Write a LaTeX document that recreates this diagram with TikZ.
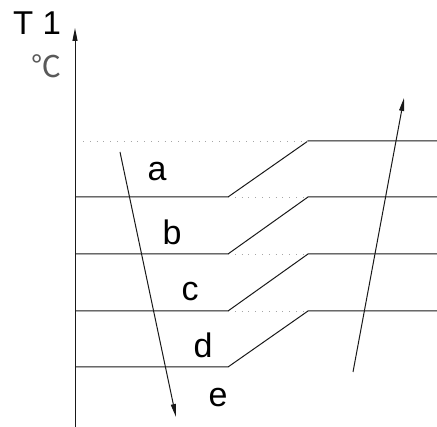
\documentclass[tikz,border=0pt]{standalone}
\usepackage{fontspec}
\setmainfont{Liberation Sans}
\newfontfamily\cjk{Noto Sans CJK SC}
\usetikzlibrary{arrows.meta}
\begin{document}
\begin{tikzpicture}[x=1pt,y=-1pt,
  line/.style={draw=black!90,line width=1pt},
  dotline/.style={draw=black!35,line width=0.8pt,dash pattern=on 0.8pt off 6pt},
  arr/.style={-{Triangle[length=13pt,width=5pt]}},
  lbl/.style={font=\fontsize{34}{34}\selectfont,inner sep=0pt}]
\useasboundingbox (0,0) rectangle (437,427);
% axis
\coordinate (ax0) at (75,427);
\coordinate (ax1) at (75,28);
\draw[line,arr] (ax0) -- (ax1);
\node[inner sep=0pt,anchor=west,font=\fontsize{33}{33}\selectfont] (t1) at (13,23) {T 1};
\node[inner sep=0pt,font=\cjk\fontsize{30}{30}\selectfont,text=black!65] (deg) at (46,66) {℃};
% level coordinates
\foreach \i/\yl/\yh in {1/197/141,2/254/197,3/311/254,4/367/311}{
  \coordinate (L\i) at (75,\yl);
  \coordinate (S\i) at (228,\yl);
  \coordinate (E\i) at (308,\yh);
  \coordinate (R\i) at (437,\yh);
  \draw[line] (L\i) -- (S\i) -- (E\i) -- (R\i);
}
\coordinate (D0) at (83,141);
\draw[dotline] (D0) -- (E1);
\draw[dotline] (S1) -- (E2);
\draw[dotline] (S2) -- (E3);
\draw[dotline] (S3) -- (E4);
% arrows
\coordinate (dn0) at (120,152);
\coordinate (dn1) at (176,417);
\draw[line,arr] (dn0) -- (dn1);
\coordinate (up0) at (353,372);
\coordinate (up1) at (404,98);
\draw[line,arr] (up0) -- (up1);
% labels
\node[lbl] (a) at (157,172) {a};
\node[lbl] (b) at (172,232) {b};
\node[lbl] (c) at (190,292) {c};
\node[lbl] (d) at (203,345) {d};
\node[lbl] (e) at (218,398) {e};
\end{tikzpicture}
\end{document}
